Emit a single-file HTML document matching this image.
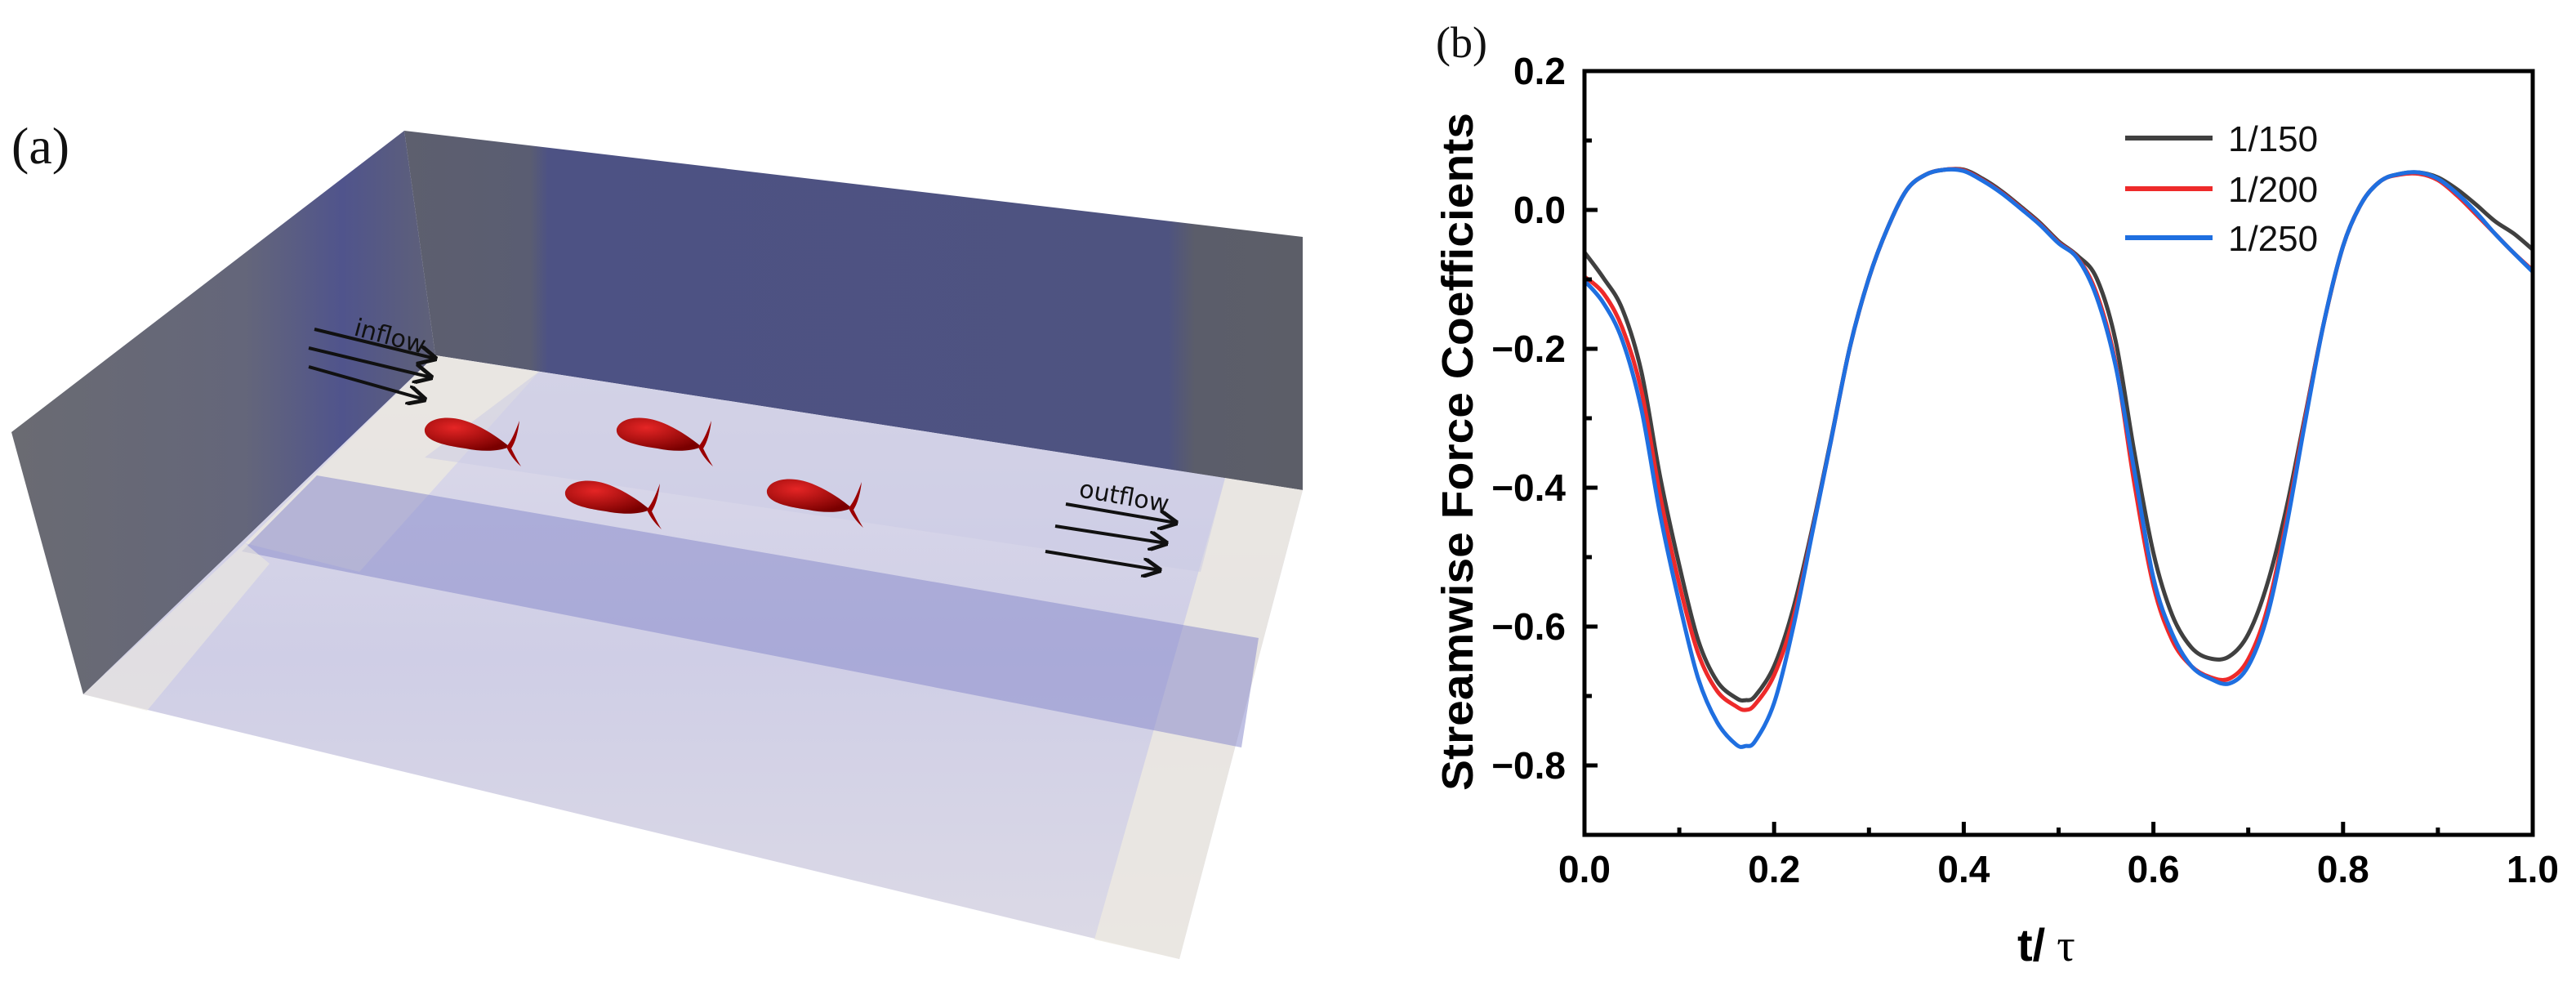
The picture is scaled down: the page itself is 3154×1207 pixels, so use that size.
<!DOCTYPE html>
<html><head><meta charset="utf-8"><style>
html,body{margin:0;padding:0;background:#fff;}
svg{display:block;}
</style></head><body>
<svg id="fig" width="3154" height="1207" viewBox="0 0 3154 1207" xmlns="http://www.w3.org/2000/svg">
<defs>
<linearGradient id="backG" x1="0" y1="0" x2="1" y2="0">
<stop offset="0" stop-color="#5d5f6e"/><stop offset="0.14" stop-color="#5a5d72"/><stop offset="0.16" stop-color="#4d5284"/><stop offset="0.85" stop-color="#4e5380"/><stop offset="0.88" stop-color="#5b5d6a"/><stop offset="1" stop-color="#5c5e68"/>
</linearGradient>
<linearGradient id="leftG" x1="0" y1="0" x2="1" y2="0">
<stop offset="0" stop-color="#6a6b72"/><stop offset="0.55" stop-color="#64667a"/><stop offset="0.78" stop-color="#50548c"/><stop offset="1" stop-color="#5f6178"/>
</linearGradient>
<linearGradient id="floorG" x1="0" y1="0" x2="0" y2="1">
<stop offset="0" stop-color="#dddbea"/><stop offset="0.5" stop-color="#cfcee6"/><stop offset="1" stop-color="#dcdae6"/>
</linearGradient>
<radialGradient id="fishG" cx="0.35" cy="0.3" r="0.75">
<stop offset="0" stop-color="#e52525"/><stop offset="1" stop-color="#7a0000"/>
</radialGradient>
<marker id="arr" viewBox="0 0 10 10" refX="9" refY="5" markerWidth="6" markerHeight="6" orient="auto"><path d="M0,0 L10,5 L0,10" fill="none" stroke="#111" stroke-width="2"/></marker>
</defs>

<g>
<text x="14" y="200" font-family="Liberation Serif, serif" font-size="64" fill="#111">(a)</text>
<polygon points="495,160 1595,290 1595,600 533,435" fill="url(#backG)"/>
<polygon points="495,160 533,435 102,850 14,529" fill="url(#leftG)"/>
<polygon points="533,435 1595,600 1444,1174 102,850" fill="url(#floorG)"/>
<polygon points="533,435 660,455 440,700 300,665" fill="#ece9e0" opacity="0.8"/>
<polygon points="1500,585 1595,600 1444,1174 1340,1150" fill="#ece9e0" opacity="0.85"/>
<polygon points="388,582 1541,781 1520,915 296,675" fill="#8a8ccc" opacity="0.55"/>
<polygon points="660,455 1500,585 1470,700 520,560" fill="#c9c9e4" opacity="0.5"/>
<polygon points="102,850 300,665 330,690 180,870" fill="#ece9e0" opacity="0.6"/>

<g stroke="#111" stroke-width="4" fill="none">
<line x1="385" y1="403" x2="533" y2="439" marker-end="url(#arr)"/>
<line x1="378" y1="426" x2="528" y2="462" marker-end="url(#arr)"/>
<line x1="378" y1="449" x2="520" y2="489" marker-end="url(#arr)"/>
</g>
<text x="432" y="410" font-family="DejaVu Sans, sans-serif" font-size="30" fill="#111" transform="rotate(15 432 410)">inflow</text>
<g stroke="#111" stroke-width="4" fill="none">
<line x1="1305" y1="617" x2="1440" y2="640" marker-end="url(#arr)"/>
<line x1="1292" y1="644" x2="1428" y2="665" marker-end="url(#arr)"/>
<line x1="1280" y1="675" x2="1420" y2="698" marker-end="url(#arr)"/>
</g>
<text x="1320" y="608" font-family="DejaVu Sans, sans-serif" font-size="30" fill="#111" transform="rotate(10 1320 608)">outflow</text>

<g id="fishes"></g>
</g>

<g>
<text x="1758" y="70" font-family="Liberation Serif, serif" font-size="54" fill="#111">(b)</text>
<g id="chart"></g>
</g>
</svg>
<script>
const xs = [0,0.02,0.04,0.06,0.08,0.10,0.12,0.14,0.16,0.17,0.18,0.20,0.22,0.24,0.26,0.28,0.30,0.32,0.34,0.36,0.38,0.40,0.42,0.44,0.46,0.48,0.50,0.52,0.54,0.56,0.58,0.60,0.62,0.64,0.66,0.68,0.70,0.72,0.74,0.76,0.78,0.80,0.82,0.84,0.86,0.88,0.90,0.92,0.94,0.96,0.98,1.00];
const y150 = [-0.061,-0.098,-0.143,-0.233,-0.386,-0.512,-0.620,-0.679,-0.703,-0.706,-0.700,-0.657,-0.575,-0.460,-0.330,-0.197,-0.098,-0.025,0.029,0.051,0.058,0.058,0.045,0.027,0.005,-0.018,-0.045,-0.066,-0.098,-0.188,-0.350,-0.494,-0.584,-0.630,-0.646,-0.643,-0.611,-0.539,-0.431,-0.296,-0.161,-0.052,0.011,0.042,0.052,0.054,0.047,0.030,0.008,-0.016,-0.034,-0.057];
const y200 = [-0.096,-0.120,-0.170,-0.260,-0.413,-0.539,-0.639,-0.693,-0.715,-0.720,-0.712,-0.670,-0.589,-0.465,-0.332,-0.197,-0.098,-0.025,0.029,0.051,0.058,0.057,0.043,0.025,0.003,-0.020,-0.047,-0.069,-0.120,-0.220,-0.395,-0.541,-0.620,-0.657,-0.673,-0.675,-0.647,-0.575,-0.449,-0.300,-0.161,-0.052,0.011,0.042,0.051,0.052,0.043,0.021,-0.006,-0.034,-0.062,-0.087];
const y250 = [-0.102,-0.134,-0.188,-0.287,-0.440,-0.566,-0.675,-0.738,-0.770,-0.772,-0.765,-0.710,-0.602,-0.467,-0.332,-0.197,-0.098,-0.025,0.029,0.051,0.058,0.056,0.042,0.024,0.002,-0.021,-0.048,-0.070,-0.125,-0.224,-0.377,-0.530,-0.611,-0.657,-0.675,-0.682,-0.657,-0.585,-0.458,-0.305,-0.161,-0.052,0.011,0.042,0.052,0.054,0.045,0.024,-0.003,-0.034,-0.062,-0.089];
const seriesNames = ["1/150","1/200","1/250"];
const seriesColors = ["#404040","#ee2a2a","#1f6fe0"];
const xTicks = [0,0.2,0.4,0.6,0.8,1.0];
const xTickLabels = ["0.0","0.2","0.4","0.6","0.8","1.0"];
const yTicks = [0.2,0.0,-0.2,-0.4,-0.6,-0.8];
const yTickLabels = ["0.2","0.0","\u22120.2","\u22120.4","\u22120.6","\u22120.8"];

const NS="http://www.w3.org/2000/svg";
const L=1940,R=3101,T=87,B=1022, XMIN=0,XMAX=1,YMIN=-0.9,YMAX=0.2;
function sx(v){return L+(v-XMIN)/(XMAX-XMIN)*(R-L);}
function sy(v){return T+(YMAX-v)/(YMAX-YMIN)*(B-T);}
function mk(tag,attrs,parent){const e=document.createElementNS(NS,tag);for(const k in attrs)e.setAttribute(k,attrs[k]);parent.appendChild(e);return e;}
const chart=document.getElementById('chart');

// smooth path (Catmull-Rom)
function smooth(pts){
  let d='M'+pts[0][0].toFixed(1)+','+pts[0][1].toFixed(1);
  for(let i=0;i<pts.length-1;i++){
    const p0=pts[Math.max(0,i-1)],p1=pts[i],p2=pts[i+1],p3=pts[Math.min(pts.length-1,i+2)];
    const c1=[p1[0]+(p2[0]-p0[0])/6,p1[1]+(p2[1]-p0[1])/6];
    const c2=[p2[0]-(p3[0]-p1[0])/6,p2[1]-(p3[1]-p1[1])/6];
    d+=' C'+c1[0].toFixed(1)+','+c1[1].toFixed(1)+' '+c2[0].toFixed(1)+','+c2[1].toFixed(1)+' '+p2[0].toFixed(1)+','+p2[1].toFixed(1);
  }
  return d;
}
const allY=[y150,y200,y250];
allY.forEach((ys,i)=>{
  const pts=xs.map((x,j)=>[sx(x),sy(ys[j])]);
  const p=mk('path',{d:smooth(pts),fill:'none',stroke:seriesColors[i],'stroke-width':5,'stroke-linejoin':'round'},chart);
  
  
});

const fr=mk('rect',{x:L,y:T,width:R-L,height:B-T,fill:'none',stroke:'#000','stroke-width':5},chart);



for(let k=0;k<=10;k++){
  const v=k/10;
  const maj=k%2===0;
  const t=mk('line',{x1:sx(v),x2:sx(v),y1:B,y2:B-(maj?16:9),stroke:'#000','stroke-width':5},chart);
  
  
}
xTicks.forEach((v,i)=>{
  const t=mk('text',{x:sx(v),y:1080,'text-anchor':'middle','font-family':'Liberation Sans, sans-serif','font-weight':'bold','font-size':46,fill:'#000'},chart);
  t.textContent=xTickLabels[i];
  
  
});
for(let k=0;k<=11;k++){
  const v=0.2-k*0.1;
  const maj=k%2===0;
  const t=mk('line',{x1:L,x2:L+(maj?16:9),y1:sy(v),y2:sy(v),stroke:'#000','stroke-width':5},chart);
  
  
}
yTicks.forEach((v,i)=>{
  const t=mk('text',{x:1917,y:sy(v)+16,'text-anchor':'end','font-family':'Liberation Sans, sans-serif','font-weight':'bold','font-size':46,fill:'#000'},chart);
  t.textContent=yTickLabels[i];
  
  
});
const yt=mk('text',{x:0,y:0,transform:'translate(1803,553) rotate(-90)','text-anchor':'middle','font-family':'Liberation Sans, sans-serif','font-weight':'bold','font-size':54,textLength:830,lengthAdjust:'spacingAndGlyphs',fill:'#000'},chart);
yt.textContent='Streamwise Force Coefficients';


const xt=mk('text',{x:2470,y:1176,'font-family':'Liberation Sans, sans-serif','font-weight':'bold','font-size':56,fill:'#000'},chart);


const t1=mk('tspan',{},xt);t1.textContent='t/';
const t2=mk('tspan',{'font-family':'Liberation Serif, serif','font-weight':'normal',dx:14},xt);t2.textContent='\u03c4';

const legY=[169,231,291];
seriesNames.forEach((n,i)=>{
  const ln=mk('line',{x1:2602,x2:2709,y1:legY[i],y2:legY[i],stroke:seriesColors[i],'stroke-width':6},chart);
  
  
  const tx=mk('text',{x:2728,y:legY[i]+16,'font-family':'Liberation Sans, sans-serif','font-size':44,fill:'#111'},chart);
  tx.textContent=n;
  
  
});

const fishG=document.getElementById('fishes');
const fishPos=[[520,511],[755,511],[692,588],[939,586]];
fishPos.forEach(p=>{
  const g=mk('g',{transform:'translate('+p[0]+','+p[1]+')'},fishG);
  
  
  mk('path',{d:'M0,14 C4,0 30,-4 55,6 C75,14 92,26 104,36 C90,42 70,42 50,38 C22,34 -2,28 0,14 Z',fill:'url(#fishG)'},g);
  mk('path',{d:'M100,36 C108,26 112,14 116,4 C114,20 111,30 106,38 C110,46 114,54 118,60 C110,53 104,45 100,36 Z',fill:'#9a0000'},g);
});
</script>
</body></html>
